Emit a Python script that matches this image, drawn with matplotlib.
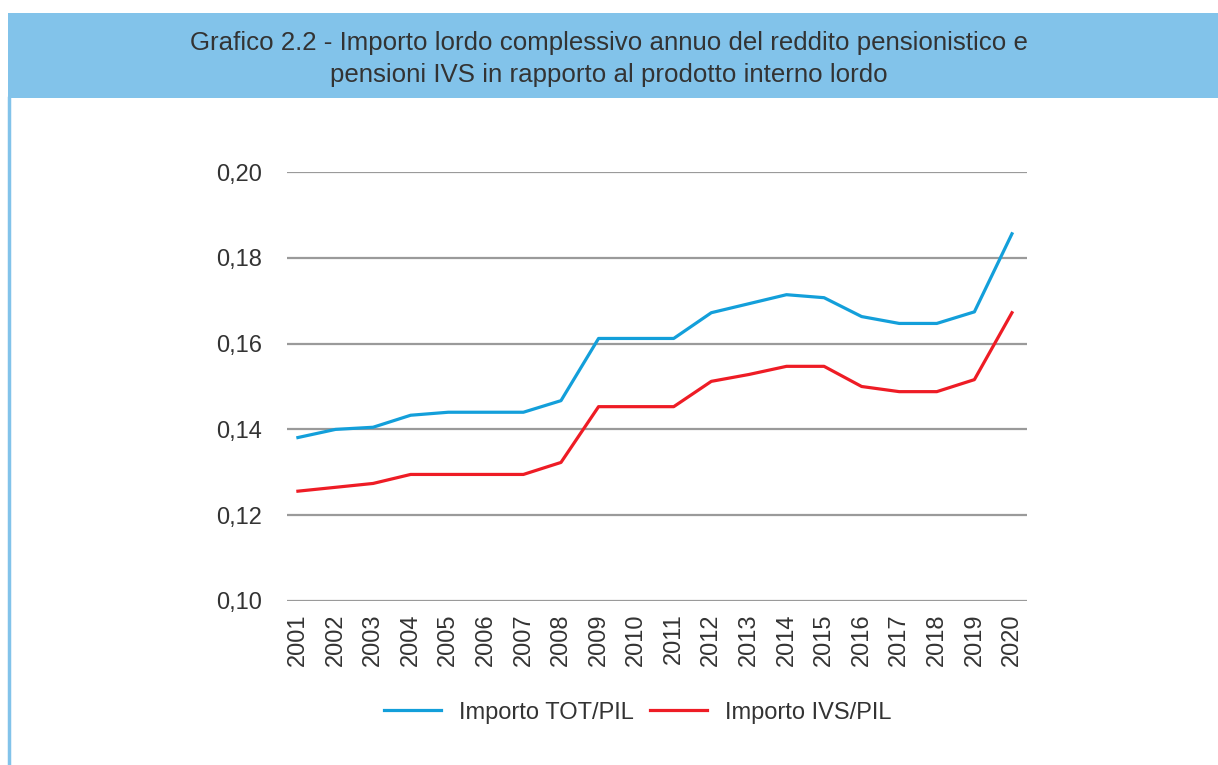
import matplotlib.pyplot as plt
from matplotlib.patches import Rectangle
from matplotlib.lines import Line2D

anni = list(range(2001, 2021))
tot_pil = [0.1381, 0.1400, 0.1405, 0.1433, 0.1440, 0.1440, 0.1440, 0.1467, 0.1612, 0.1612,
           0.1612, 0.1672, 0.1693, 0.1714, 0.1707, 0.1663, 0.1647, 0.1647, 0.1674, 0.1856]
ivs_pil = [0.1256, 0.1265, 0.1274, 0.1295, 0.1295, 0.1295, 0.1295, 0.1323, 0.1453, 0.1453,
           0.1453, 0.1512, 0.1528, 0.1547, 0.1547, 0.1500, 0.1488, 0.1488, 0.1516, 0.1672]
y_ticks = [0.10, 0.12, 0.14, 0.16, 0.18, 0.20]
titolo = ("Grafico 2.2 - Importo lordo complessivo annuo del reddito pensionistico e\n"
          "pensioni IVS in rapporto al prodotto interno lordo")

plt.rcParams['font.family'] = ['Liberation Sans', 'DejaVu Sans']
testo = '#333333'
azzurro = '#82c3ea'

fig = plt.figure(figsize=(12.18, 7.65), dpi=100)

# banda del titolo e bordo sinistro
fig.patches.append(Rectangle((8 / 1218, 1 - 98 / 765), 1 - 8 / 1218, 85 / 765,
                             transform=fig.transFigure, facecolor=azzurro, edgecolor='none'))
fig.lines.append(Line2D([9 / 1218, 9 / 1218], [0, 1 - 98 / 765], transform=fig.transFigure,
                        color=azzurro, linewidth=2.5))
fig.text(0.5, 1 - 59 / 765, titolo, ha='center', va='center', fontsize=18.6,
         color=testo, linespacing=1.4)

ax = fig.add_axes([287 / 1218, 1 - 601 / 765, 740 / 1218, 429 / 765])
ax.plot(anni, tot_pil, color='#139fda', linewidth=2.3, label='Importo TOT/PIL')
ax.plot(anni, ivs_pil, color='#ee1c25', linewidth=2.3, label='Importo IVS/PIL')

ax.set_ylim(0.10, 0.20)
ax.set_xlim(2001 - 0.29, 2020 + 0.4)
ax.set_yticks(y_ticks)
ax.set_yticklabels([f"{v:.2f}".replace('.', ',') for v in y_ticks])
ax.set_xticks(anni)
ax.set_xticklabels([str(a) for a in anni], rotation=90)
ax.tick_params(axis='both', length=0, labelsize=17, labelcolor=testo)
ax.tick_params(axis='y', pad=18)
ax.tick_params(axis='x', pad=9)
ax.grid(axis='y', color='#9a9a9a', linewidth=1.6)
ax.set_axisbelow(True)
for s in ax.spines.values():
    s.set_visible(False)

ax.legend(loc='upper center', bbox_to_anchor=(0.474, -0.185), ncol=2, frameon=False,
          fontsize=17, handlelength=2.4, handletextpad=0.75, columnspacing=0.7,
          labelcolor=testo)

plt.savefig('out.png', dpi=100)
